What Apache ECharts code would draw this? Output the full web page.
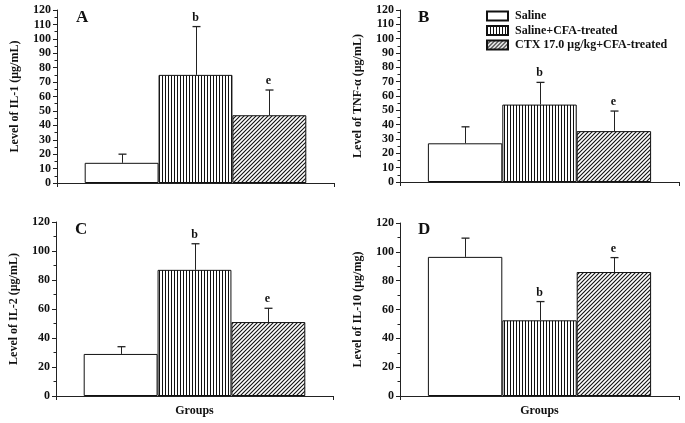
<!DOCTYPE html>
<html>
<head>
<meta charset="utf-8">
<script src="https://cdn.jsdelivr.net/npm/echarts@6/dist/echarts.min.js"></script>
<style>html,body{margin:0;padding:0;background:#fff}#c{width:685px;height:423px}</style>
</head>
<body>
<div id="c"></div>
<script>
// ---- data ----
const groups = ['Saline', 'Saline+CFA-treated', 'CTX 17.0 μg/kg+CFA-treated'];
const panelLetters = ['A', 'B', 'C', 'D'];
const yNames = ['Level of IL-1 (μg/mL)', 'Level of TNF-α (μg/mL)', 'Level of IL-2 (μg/mL)', 'Level of IL-10 (μg/mg)'];
const il1Mean = [14, 75, 47];
const il1Upper = [20, 108.5, 64.5];
const tnfMean = [27, 54, 35.5];
const tnfUpper = [38.5, 69.5, 49.5];
const il2Mean = [29, 87, 51];
const il2Upper = [34, 105, 60.5];
const il10Mean = [96.5, 52.5, 86];
const il10Upper = [109.5, 65.5, 96];
const sigLabels = ['', 'b', 'e'];
const yMax = 120;
const yIntervals = [10, 10, 20, 20];

const means = [il1Mean, tnfMean, il2Mean, il10Mean];
const uppers = [il1Upper, tnfUpper, il2Upper, il10Upper];

// ---- patterns ----
function vertStripes() {
  const c = document.createElement('canvas'); c.width = 3; c.height = 6;
  const g = c.getContext('2d');
  g.fillStyle = '#fff'; g.fillRect(0, 0, 3, 6);
  g.fillStyle = '#111'; g.fillRect(0, 0, 1, 6);
  return c;
}
function diagHatch() {
  const s = 4;
  const c = document.createElement('canvas'); c.width = s; c.height = s;
  const g = c.getContext('2d');
  g.fillStyle = '#fff'; g.fillRect(0, 0, s, s);
  g.strokeStyle = '#111'; g.lineWidth = 1.1;
  g.beginPath();
  g.moveTo(0, s); g.lineTo(s, 0);
  g.moveTo(-1, 1); g.lineTo(1, -1);
  g.moveTo(s - 1, s + 1); g.lineTo(s + 1, s - 1);
  g.stroke();
  return c;
}
const fills = ['#ffffff', {image: vertStripes(), repeat: 'repeat'}, {image: diagHatch(), repeat: 'repeat'}];

const FONT = '"Liberation Serif", "DejaVu Serif", serif';
const CAT_GAP = 0.2;

const grids = [
  {left: 57, top: 10, width: 277, height: 173},
  {left: 400, top: 10, width: 279, height: 172},
  {left: 56, top: 222, width: 277, height: 174},
  {left: 400, top: 223, width: 279, height: 173}
];

const xAxes = grids.map((g, i) => ({
  type: 'category', gridIndex: i, data: [''],
  axisLine: {lineStyle: {color: '#222', width: 1}},
  axisTick: {show: true, length: 4, lineStyle: {color: '#222'}},
  axisLabel: {show: false},
  name: i >= 2 ? 'Groups' : '', nameLocation: 'middle', nameGap: 9,
  nameTextStyle: {fontFamily: FONT, fontWeight: 'bold', fontSize: 12, color: '#111'}
}));

const yAxes = grids.map((g, i) => ({
  type: 'value', gridIndex: i, min: 0, max: yMax, interval: yIntervals[i],
  axisLine: {show: true, lineStyle: {color: '#222', width: 1}},
  axisTick: {show: true, length: 4, lineStyle: {color: '#222'}},
  minorTick: {show: true, splitNumber: 2, length: 2.5, lineStyle: {color: '#222'}},
  splitLine: {show: false},
  axisLabel: {fontFamily: FONT, fontWeight: 'bold', fontSize: 12, color: '#111', margin: 6},
  name: yNames[i], nameLocation: 'middle', nameGap: 36,
  nameTextStyle: {fontFamily: FONT, fontWeight: 'bold', fontSize: 12, color: '#111'}
}));

const series = [];
for (let p = 0; p < 4; p++) {
  for (let k = 0; k < groups.length; k++) {
    series.push({
      type: 'bar', name: groups[k], xAxisIndex: p, yAxisIndex: p,
      data: [means[p][k]],
      barGap: 0, barCategoryGap: (CAT_GAP * 100) + '%',
      itemStyle: {color: fills[k], borderColor: '#111', borderWidth: 1},
      emphasis: {disabled: true}, silent: true, animation: false
    });
  }
  const errData = groups.map((gName, k) => [0, means[p][k], uppers[p][k], k, sigLabels[k]]);
  series.push({
    type: 'custom', name: 'err' + p, xAxisIndex: p, yAxisIndex: p, z: 5,
    data: errData, animation: false, silent: true,
    renderItem: function (params, api) {
      const band = api.size([1, 0])[0];
      const bw = band * (1 - CAT_GAP) / 3;
      const k = api.value(3);
      const base = api.coord([0, api.value(1)]);
      const top = api.coord([0, api.value(2)]);
      const x = Math.round(base[0] + (k - 1) * bw) + 0.5;
      const children = [
        {type: 'line', shape: {x1: x, y1: base[1], x2: x, y2: top[1]}, style: {stroke: '#222', lineWidth: 1}},
        {type: 'line', shape: {x1: x - 4, y1: top[1], x2: x + 4, y2: top[1]}, style: {stroke: '#222', lineWidth: 1.3}}
      ];
      const lab = errData[params.dataIndex][4];
      if (lab) {
        children.push({type: 'text', x: x - 1, y: top[1] - 3, style: {text: lab, fontFamily: FONT, fontWeight: 'bold', fontSize: 12, fill: '#111', align: 'center', verticalAlign: 'bottom'}});
      }
      return {type: 'group', children: children};
    }
  });
}

const letterPos = [[76, 9], [418, 9], [75, 221], [418, 221]];
const titles = panelLetters.map((t, i) => ({
  text: t, left: letterPos[i][0], top: letterPos[i][1], padding: 0,
  textStyle: {fontFamily: FONT, fontWeight: 'bold', fontSize: 17, color: '#111'}
}));

const chart = echarts.init(document.getElementById('c'), null, {renderer: 'canvas'});
chart.setOption({
  animation: false,
  backgroundColor: '#fff',
  title: titles,
  grid: grids,
  xAxis: xAxes,
  yAxis: yAxes,
  legend: {
    data: groups, orient: 'vertical', left: 486, top: 10, padding: 0,
    itemWidth: 21, itemHeight: 9, itemGap: 2.5, selectedMode: false,
    icon: 'rect',
    textStyle: {fontFamily: FONT, fontWeight: 'bold', fontSize: 12, color: '#111', padding: [0, 0, 0, 2]}
  },
  series: series
});
</script>
</body>
</html>
